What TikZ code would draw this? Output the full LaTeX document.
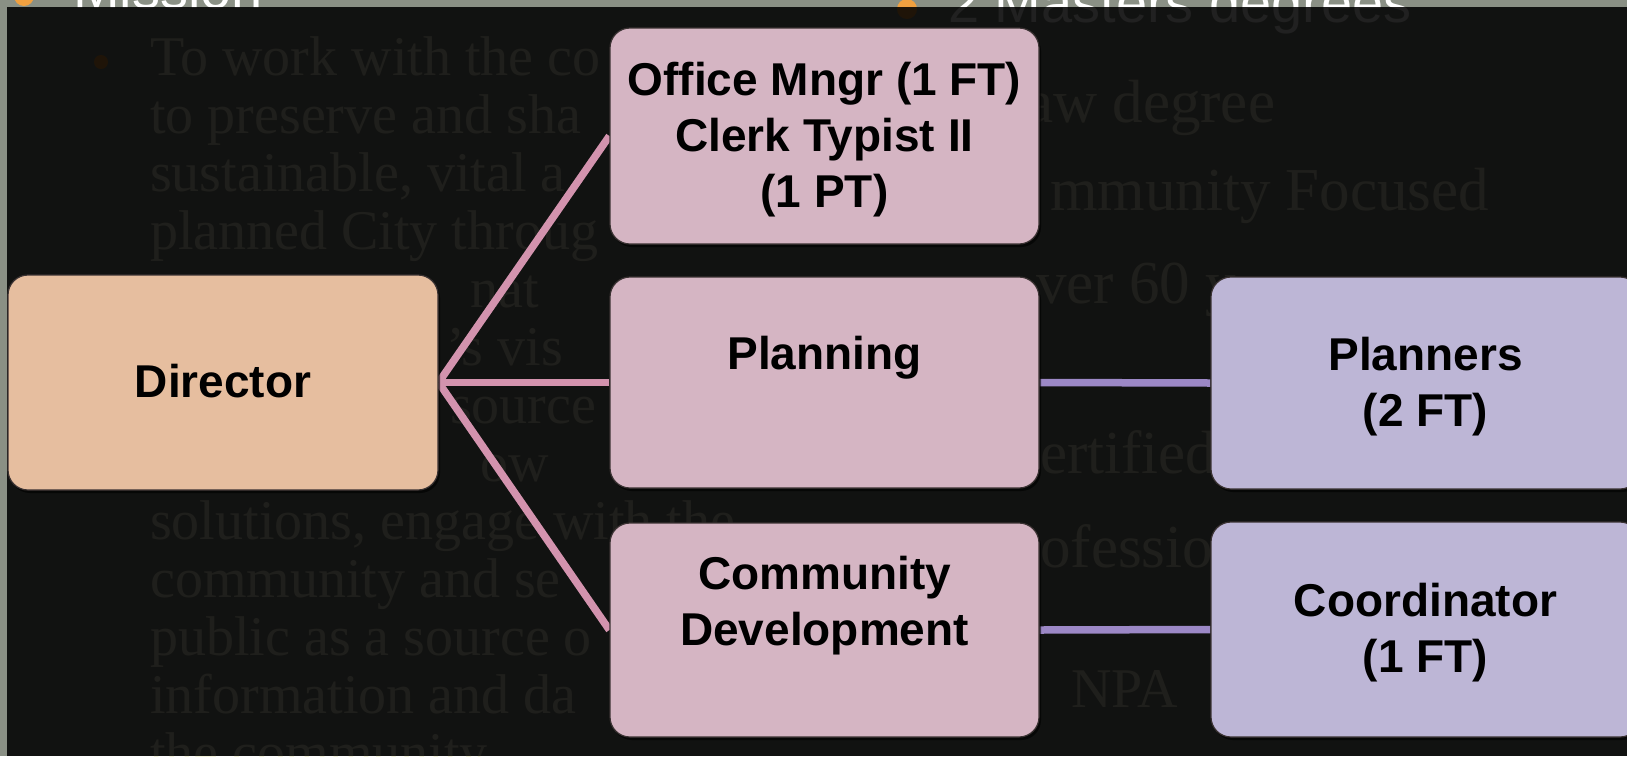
\documentclass[tikz,border=0pt]{standalone}
\usepackage{fontspec}
\setmainfont{Liberation Sans}
\newfontfamily\bgserif{Liberation Serif}
\usetikzlibrary{shadows}
\pgfdeclarelayer{back}
\pgfdeclarelayer{links}
\pgfsetlayers{back,links,main}
\definecolor{slidegray}{HTML}{8A9085}
\definecolor{peach}{HTML}{E6BE9F}
\definecolor{pinkbox}{HTML}{D5B5C3}
\definecolor{lavbox}{HTML}{BDB6D6}
\definecolor{pinkline}{HTML}{D393AE}
\definecolor{purpline}{HTML}{9C88C6}
\definecolor{bulletorange}{HTML}{F0A040}
\definecolor{boxedge}{HTML}{3A3232}
\definecolor{fadetext}{HTML}{F4F4DC}
\newcommand{\boxtxt}[1]{\raisebox{-4pt}[\height][\depth]{\begin{tabular}{@{}c@{}}#1\end{tabular}}}
\begin{document}
\begin{tikzpicture}[x=1pt,y=-1pt,
  slidehead/.style={text=white, font=\fontsize{56}{60}\selectfont, anchor=base west, inner sep=0pt},
  slidebody/.style={text=fadetext, font=\bgserif\fontsize{56}{58}\selectfont, anchor=base west, inner sep=0pt},
  sliderbody/.style={slidebody, font=\bgserif\fontsize{61}{64}\selectfont},
  orgbox/.style={rounded corners=20pt, draw=boxedge, line width=1.2pt, inner sep=0pt,
    minimum width=429pt, minimum height=214pt, align=center, text=black,
    font=\bfseries\fontsize{46}{56}\selectfont,
    drop shadow={shadow xshift=2pt, shadow yshift=-3pt, opacity=0.6, fill=black}},
  topbox/.style={orgbox, fill=peach},
  midbox/.style={orgbox, fill=pinkbox},
  lowbox/.style={orgbox, fill=lavbox},
  pinkconn/.style={draw=pinkline, line width=7.5pt},
  purpconn/.style={draw=purpline, line width=7.5pt}
]
\useasboundingbox (0,0) rectangle (1627,756);

\begin{pgfonlayer}{back}
  \fill[slidegray] (0,0) rectangle (1627,756);
  % slide text behind the dark overlay
  \fill[bulletorange] (24,-4) circle[radius=10];
  \node[slidehead] (hmission) at (73,8) {Mission};
  \fill[bulletorange] (907,9) circle[radius=10];
  \node[slidehead] (hmasters) at (948,22) {2 Masters degrees};
  \fill[bulletorange] (101,62) circle[radius=7];
  \node[slidebody] (l1) at (150,75) {To work with the co};
  \node[slidebody] (l2) at (150,133) {to preserve and sha};
  \node[slidebody] (l3) at (150,191) {sustainable, vital a};
  \node[slidebody] (l4) at (150,249) {planned City throug};
  \node[slidebody] (l5) at (470,307) {nat};
  \node[slidebody] (l6) at (446,365) {’s vis};
  \node[slidebody] (l7) at (450,423) {source};
  \node[slidebody] (l8) at (480,481) {ow};
  \node[slidebody] (l9) at (150,539) {solutions, engage with the};
  \node[slidebody] (l10) at (150,597) {community and se};
  \node[slidebody] (l11) at (150,655) {public as a source o};
  \node[slidebody] (l12) at (150,713) {information and da};
  \node[slidebody] (l13) at (150,771) {the community};
  \node[sliderbody] (r2) at (1026,122) {aw degree};
  \node[sliderbody] (r3) at (1050,210) {mmunity Focused};
  \node[sliderbody] (r4) at (1036,303) {ver 60 y};
  \node[sliderbody] (r6) at (1040,473) {ertified};
  \node[sliderbody] (r7) at (1040,567) {ofession};
  \node[slidebody] (r9) at (1071,707) {NPA};
  \fill[black, opacity=0.87] (7,7) rectangle (1627,756);
\end{pgfonlayer}

\node[topbox, minimum width=430pt, minimum height=215pt] (dir) at (223,382.5) {\boxtxt{Director}};
\node[midbox, minimum height=216pt] (office) at (824.5,136) {\boxtxt{Office Mngr (1 FT)\\Clerk Typist II\\(1 PT)}};
\node[midbox, minimum height=211pt] (plan) at (824.5,382.5) {\boxtxt{Planning\\ \mbox{}}};
\node[midbox] (comm) at (824.5,630) {\boxtxt{Community\\Development\\ \mbox{}}};
\node[lowbox, minimum height=212pt] (planners) at (1425.5,383) {\boxtxt{Planners\\(2 FT)}};
\node[lowbox, minimum height=215pt] (coord) at (1425.5,629.5) {\boxtxt{Coordinator\\(1 FT)}};

\begin{pgfonlayer}{links}
  \draw[pinkconn] (dir.east) -- (office.west);
  \draw[pinkconn] (dir.east) -- (plan.west);
  \draw[pinkconn] (dir.east) -- (comm.west);
  \draw[purpconn] (plan.east) -- (planners.west);
  \draw[purpconn] (comm.east) -- (coord.west);
\end{pgfonlayer}
\end{tikzpicture}
\end{document}
